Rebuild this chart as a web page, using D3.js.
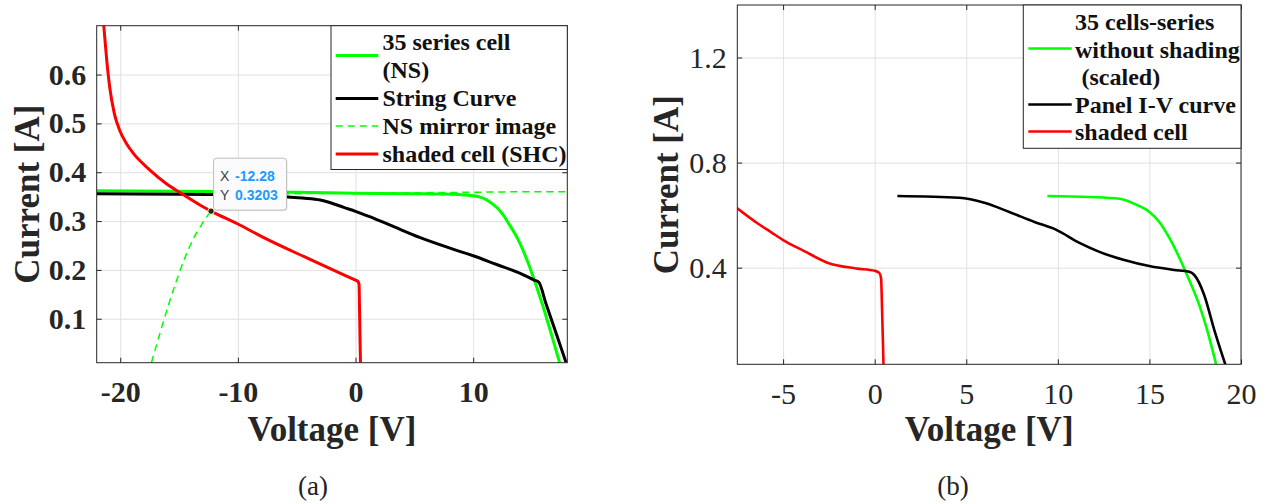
<!DOCTYPE html>
<html>
<head>
<meta charset="utf-8">
<script src="https://cdn.jsdelivr.net/npm/d3@7"></script>
<style>
  body { margin: 0; background: #fff; }
  svg { display: block; }
</style>
</head>
<body>
<svg id="chart" width="1271" height="504"></svg>
<script>
// ---------- (a) 35-cell string with one shaded cell ----------
const nsV = [-22, -15, -10, -5, 0, 5, 9, 10, 10.6, 11.1, 11.7, 12.3, 13.1, 13.8, 14.5, 15.2, 15.9, 16.6, 17.35];
const nsI = [0.362, 0.361, 0.360, 0.359, 0.357, 0.356, 0.354, 0.352, 0.349, 0.344, 0.334, 0.3205, 0.292, 0.263, 0.225, 0.179, 0.128, 0.072, 0.01];

const stringV = [-22, -15, -10, -6, -4.5, -3, -2.2, -1, 0, 1.2, 3, 5.5, 8.6, 10, 12, 14, 15.2, 15.57, 16.2, 16.9, 17.9];
const stringI = [0.356, 0.355, 0.354, 0.350, 0.347, 0.343, 0.338, 0.328, 0.320, 0.309, 0.291, 0.266, 0.240, 0.229, 0.211, 0.193, 0.179, 0.175, 0.130, 0.081, 0.01];

const mirrorV = [-17.35, -16.6, -15.9, -15.2, -14.5, -13.8, -13.1, -12.28, -11.7, -11.1, -10.6, -10, -9, -5, 0, 5, 10, 15, 18];
const mirrorI = [0.01, 0.072, 0.128, 0.179, 0.225, 0.263, 0.292, 0.3203, 0.334, 0.344, 0.349, 0.352, 0.354, 0.356, 0.357, 0.358, 0.359, 0.360, 0.360];

const shcV = [-21.4, -21.15, -20.9, -20.5, -20.05, -19.5, -18.9, -17.5, -16.1, -14.9, -13.3, -12.28, -10, -7.8, -4, -1, 0, 0.2, 0.3, 0.34, 0.38, 0.42];
const shcI = [0.70, 0.63, 0.575, 0.52, 0.486, 0.46, 0.439, 0.405, 0.377, 0.358, 0.334, 0.3203, 0.294, 0.266, 0.223, 0.190, 0.179, 0.1765, 0.170, 0.12, 0.06, 0.01];

const tipV = -12.28, tipI = 0.3203;

const aXTicks = [-20, -10, 0, 10];
const aYTicks = [0.1, 0.2, 0.3, 0.4, 0.5, 0.6];

// ---------- (b) panel I-V with one shaded cell ----------
const scaledV = [9.43, 11.72, 13.36, 14.18, 15.0, 15.54, 16.09, 16.64, 17.17, 17.72, 18.15, 18.64];
const scaledI = [0.673, 0.669, 0.662, 0.643, 0.612, 0.574, 0.513, 0.437, 0.353, 0.258, 0.163, 0.032];

const panelV = [1.24, 4.62, 5.99, 7.35, 8.72, 9.92, 11.18, 12.27, 13.63, 14.99, 16.35, 17.17, 17.45, 17.99, 18.54, 19.14];
const panelI = [0.673, 0.666, 0.647, 0.612, 0.574, 0.544, 0.494, 0.460, 0.429, 0.406, 0.391, 0.384, 0.372, 0.296, 0.163, 0.032];

const shadedV = [-7.5, -6.4, -5.7, -5.0, -3.9, -2.5, -1.0, 0, 0.25, 0.35, 0.4, 0.45, 0.48];
const shadedI = [0.626, 0.569, 0.537, 0.505, 0.465, 0.417, 0.397, 0.388, 0.38, 0.36, 0.25, 0.12, 0.032];

const bXTicks = [-5, 0, 5, 10, 15, 20];
const bYTicks = [0.4, 0.8, 1.2];

const svg = d3.select("#chart");
const SERIF = "'Liberation Serif', 'Times New Roman', serif";
const AX = "#262626";

function zip(vs, is) { return vs.map((v, k) => ({ v, i: is[k] })); }

function drawPanel(cfg) {
  const x = d3.scaleLinear().domain(cfg.xDomain).range(cfg.xRange);
  const y = d3.scaleLinear().domain(cfg.yDomain).range(cfg.yRange);
  const [L, R] = cfg.xRange, [B, T] = cfg.yRange;
  const W = R - L, H = B - T;
  const g = svg.append("g");

  // grid
  const gx = g.append("g").attr("transform", `translate(0,${B})`)
    .call(d3.axisBottom(x).tickValues(cfg.xTicks).tickSize(-H).tickFormat(""));
  const gy = g.append("g").attr("transform", `translate(${L},0)`)
    .call(d3.axisLeft(y).tickValues(cfg.yTicks).tickSize(-W).tickFormat(""));
  [gx, gy].forEach(a => {
    a.select(".domain").remove();
    a.selectAll("line").attr("stroke", "#e1e1e1").attr("stroke-width", 1);
  });

  // curves
  const clipId = "clip-" + cfg.id;
  g.append("clipPath").attr("id", clipId)
    .append("rect").attr("x", L).attr("y", T).attr("width", W).attr("height", H);
  const plot = g.append("g").attr("clip-path", `url(#${clipId})`);
  const line = d3.line().x(d => x(d.v)).y(d => y(d.i)).curve(d3.curveMonotoneX);
  cfg.series.forEach(s => {
    plot.append("path").datum(zip(s.v, s.i))
      .attr("d", line).attr("fill", "none")
      .attr("stroke", s.color).attr("stroke-width", s.width)
      .attr("stroke-dasharray", s.dash || null)
      .attr("stroke-linejoin", "round");
  });

  // axes with inward ticks on all four sides
  const axB = g.append("g").attr("transform", `translate(0,${B})`)
    .call(d3.axisBottom(x).tickValues(cfg.xTicks).tickSizeInner(-5).tickSizeOuter(0)
      .tickPadding(18).tickFormat(d => String(d)));
  const axL = g.append("g").attr("transform", `translate(${L},0)`)
    .call(d3.axisLeft(y).tickValues(cfg.yTicks).tickSizeInner(-5).tickSizeOuter(0)
      .tickPadding(10.5).tickFormat(d => String(d)));
  const axT = g.append("g").attr("transform", `translate(0,${T})`)
    .call(d3.axisTop(x).tickValues(cfg.xTicks).tickSizeInner(-5).tickSizeOuter(0).tickFormat(""));
  const axR = g.append("g").attr("transform", `translate(${R},0)`)
    .call(d3.axisRight(y).tickValues(cfg.yTicks).tickSizeInner(-5).tickSizeOuter(0).tickFormat(""));
  [axB, axL, axT, axR].forEach(a => {
    a.select(".domain").remove();
    a.selectAll("line").attr("stroke", AX).attr("stroke-width", 1);
    a.selectAll("text").attr("fill", AX).attr("font-family", SERIF)
      .attr("font-size", 30).attr("font-weight", cfg.tickWeight);
  });
  g.append("rect").attr("x", L).attr("y", T).attr("width", W).attr("height", H)
    .attr("fill", "none").attr("stroke", AX).attr("stroke-width", 1);

  // axis titles
  g.append("text").attr("x", (L + R) / 2).attr("y", 441)
    .attr("text-anchor", "middle").attr("font-family", SERIF).attr("font-weight", "bold")
    .attr("font-size", 35).attr("fill", AX).text("Voltage [V]");
  g.append("text")
    .attr("transform", `translate(${cfg.yTitleX},${(T + B) / 2}) rotate(-90)`)
    .attr("text-anchor", "middle").attr("dy", "0.35em")
    .attr("font-family", SERIF).attr("font-weight", "bold")
    .attr("font-size", 35).attr("fill", AX).text("Current [A]");

  // caption
  g.append("text").attr("x", cfg.captionX).attr("y", 495)
    .attr("text-anchor", "middle").attr("font-family", SERIF)
    .attr("font-size", 27).attr("fill", "#222").text(cfg.caption);

  // legend
  const lg = cfg.legend;
  const leg = g.append("g");
  leg.append("rect").attr("x", lg.x0).attr("y", lg.y0)
    .attr("width", lg.x1 - lg.x0).attr("height", lg.y1 - lg.y0)
    .attr("fill", "#fff").attr("stroke", AX).attr("stroke-width", 1);
  lg.entries.forEach(e => {
    leg.append("line").attr("x1", lg.lineX0).attr("x2", lg.lineX1)
      .attr("y1", e.lineY).attr("y2", e.lineY)
      .attr("stroke", e.color).attr("stroke-width", e.width)
      .attr("stroke-dasharray", e.dash || null);
    e.lines.forEach(t => {
      leg.append("text").attr("x", lg.textX + (t.indent || 0)).attr("y", t.y)
        .attr("font-family", SERIF).attr("font-weight", "bold")
        .attr("font-size", 24).attr("fill", "#111").text(t.s);
    });
  });

  return { x, y, g };
}

// ----- panel (a) -----
const pa = drawPanel({
  id: "a",
  xDomain: [-22, 18], xRange: [96.7, 567.3],
  yDomain: [0.01, 0.7], yRange: [362.7, 25.7],
  xTicks: aXTicks, yTicks: aYTicks, tickWeight: "bold",
  yTitleX: 27, caption: "(a)", captionX: 313,
  series: [
    { v: nsV, i: nsI, color: "#00ff00", width: 3 },
    { v: stringV, i: stringI, color: "#000000", width: 3 },
    { v: mirrorV, i: mirrorI, color: "#00ff00", width: 1.5, dash: "7,5" },
    { v: shcV, i: shcI, color: "#ff0000", width: 3 }
  ],
  legend: {
    x0: 331, x1: 567.3, y0: 25.7, y1: 169.5,
    lineX0: 335.7, lineX1: 378.3, textX: 382.5,
    entries: [
      { color: "#00ff00", width: 3, lineY: 55.5, lines: [{ s: "35 series cell", y: 50 }, { s: "(NS)", y: 78 }] },
      { color: "#000000", width: 3, lineY: 98.5, lines: [{ s: "String Curve", y: 106 }] },
      { color: "#00ff00", width: 1.5, dash: "7,5", lineY: 126, lines: [{ s: "NS mirror image", y: 134 }] },
      { color: "#ff0000", width: 3, lineY: 154, lines: [{ s: "shaded cell (SHC)", y: 162 }] }
    ]
  }
});

// data tip on the shaded-cell curve
(function () {
  const px = pa.x(tipV), py = pa.y(tipI);
  const tip = pa.g.append("g");
  const bx = px + 2.5, by = py - 53, bw = 73, bh = 52;
  tip.append("rect").attr("x", bx + 1).attr("y", by + 1).attr("width", bw).attr("height", bh)
    .attr("rx", 3).attr("fill", "rgba(0,0,0,0.08)");
  tip.append("rect").attr("x", bx).attr("y", by).attr("width", bw).attr("height", bh)
    .attr("rx", 3).attr("fill", "#fbfbfd").attr("stroke", "#bdbdbd").attr("stroke-width", 1);
  const rows = [["X", String(tipV)], ["Y", String(tipI)]];
  rows.forEach((r, k) => {
    const ty = by + 23 + k * 19;
    tip.append("text").attr("x", bx + 6.5).attr("y", ty)
      .attr("font-family", "'Liberation Sans', Arial, sans-serif").attr("font-size", 14)
      .attr("fill", "#404040").text(r[0]);
    tip.append("text").attr("x", bx + 21.5).attr("y", ty)
      .attr("font-family", "'Liberation Sans', Arial, sans-serif").attr("font-size", 14)
      .attr("font-weight", "bold").attr("fill", "#1a9bff").text(r[1]);
  });
  tip.append("circle").attr("cx", px).attr("cy", py).attr("r", 3.2)
    .attr("fill", "#262626").attr("stroke", "#fff8c8").attr("stroke-width", 1);
})();

// ----- panel (b) -----
drawPanel({
  id: "b",
  xDomain: [-7.5, 20], xRange: [737.3, 1241],
  yDomain: [0.032, 1.4], yRange: [364.3, 5],
  xTicks: bXTicks, yTicks: bYTicks, tickWeight: "normal",
  yTitleX: 666, caption: "(b)", captionX: 953,
  series: [
    { v: scaledV, i: scaledI, color: "#00ff00", width: 2.6 },
    { v: panelV, i: panelI, color: "#000000", width: 2.6 },
    { v: shadedV, i: shadedI, color: "#ff0000", width: 2.6 }
  ],
  legend: {
    x0: 1023.3, x1: 1241, y0: 5, y1: 148.3,
    lineX0: 1028.3, lineX1: 1071.7, textX: 1075,
    entries: [
      { color: "#00ff00", width: 2.6, lineY: 48.5,
        lines: [{ s: "35 cells-series", y: 30 }, { s: "without shading", y: 58 }, { s: "(scaled)", y: 85, indent: 6.5 }] },
      { color: "#000000", width: 2.6, lineY: 104.5, lines: [{ s: "Panel I-V curve", y: 113 }] },
      { color: "#ff0000", width: 2.6, lineY: 131.5, lines: [{ s: "shaded cell", y: 140 }] }
    ]
  }
});
</script>
</body>
</html>
